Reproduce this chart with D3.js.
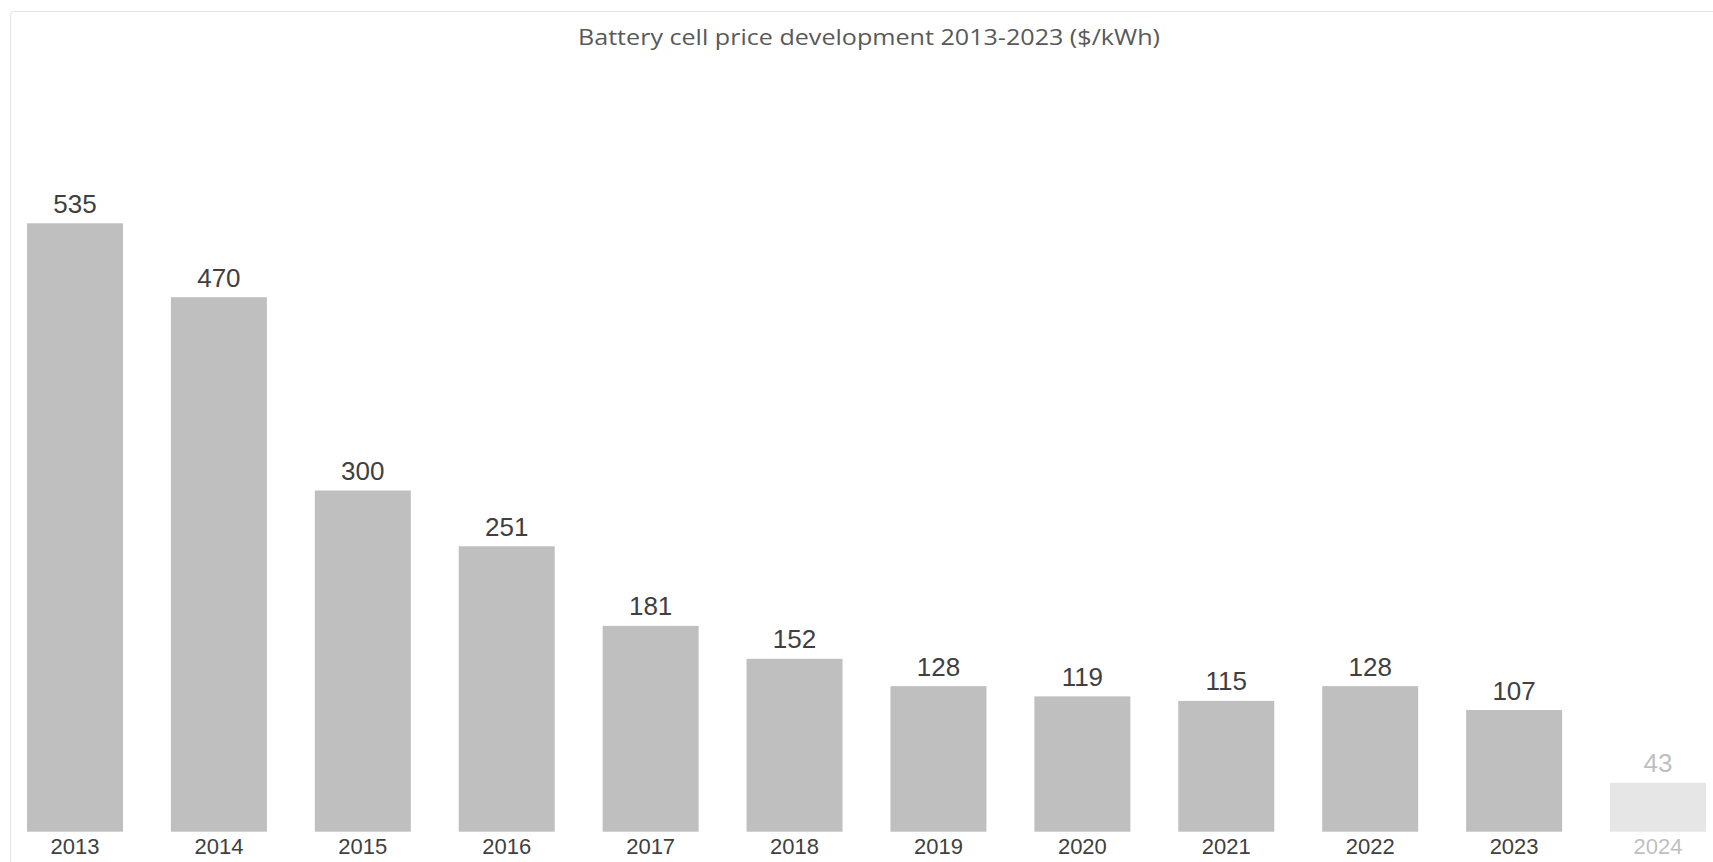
<!DOCTYPE html>
<html>
<head>
<meta charset="utf-8">
<script src="https://cdn.jsdelivr.net/npm/d3@7"></script>
<style>
  body { margin: 0; background: #fff; }
  svg { display: block; }
</style>
</head>
<body>
<svg id="chart" width="1713" height="862"></svg>
<script>
var years = ["2013", "2014", "2015", "2016", "2017", "2018", "2019", "2020", "2021", "2022", "2023", "2024"];
var prices = [535, 470, 300, 251, 181, 152, 128, 119, 115, 128, 107, 43];
var faded = ["2024"]; // drawn lighter, outside the title range

var svg = d3.select("#chart"),
    width = +svg.attr("width"),
    height = +svg.attr("height");

// chart frame (runs off the right / bottom edge)
svg.append("rect")
    .attr("x", 10.5)
    .attr("y", 11.5)
    .attr("width", width + 20)
    .attr("height", height + 20)
    .attr("rx", 3)
    .attr("fill", "none")
    .attr("stroke", "#e4e4e4")
    .attr("stroke-width", 1);

svg.append("text")
    .attr("x", 869)
    .attr("y", 45)
    .attr("text-anchor", "middle")
    .attr("textLength", 582)
    .attr("lengthAdjust", "spacingAndGlyphs")
    .style("font-family", "'Open Sans', sans-serif")
    .style("font-size", "22px")
    .style("fill", "#595959")
    .text("Battery cell price development 2013-2023 ($/kWh)");

var x = d3.scaleBand()
    .domain(years)
    .range([0, 1733])
    .paddingInner(0.333)
    .paddingOuter(0.1876);

var y = d3.scaleLinear()
    .domain([0, 535])
    .range([831.7, 223.3]);

var data = years.map(function(d, i) { return {year: d, value: prices[i]}; });

svg.append("g")
  .selectAll("rect")
    .data(data)
    .enter()
    .append("rect")
    .attr("x", function(d) { return x(d.year); })
    .attr("y", function(d) { return y(d.value); })
    .attr("width", x.bandwidth())
    .attr("height", function(d) { return y(0) - y(d.value); })
    .attr("fill", function(d) { return faded.indexOf(d.year) >= 0 ? "#e6e6e6" : "#bfbfbf"; });

// value labels above bars
svg.append("g")
  .selectAll("text")
    .data(data)
    .enter()
    .append("text")
    .attr("x", function(d) { return x(d.year) + x.bandwidth() / 2; })
    .attr("y", function(d) { return y(d.value) - 10.5; })
    .attr("text-anchor", "middle")
    .style("font-family", "'Liberation Sans', Arial, sans-serif")
    .style("font-size", "26px")
    .style("fill", function(d) { return faded.indexOf(d.year) >= 0 ? "#bfbfbf" : "#404040"; })
    .text(function(d) { return d.value; });

// year axis
var xAxis = svg.append("g")
    .attr("transform", "translate(0," + y(0) + ")")
    .call(d3.axisBottom(x).tickSize(0).tickPadding(7));

xAxis.select(".domain").remove();
xAxis.selectAll("text")
    .style("font-family", "'Liberation Sans', Arial, sans-serif")
    .style("font-size", "22px")
    .style("fill", function(d) { return faded.indexOf(d) >= 0 ? "#bfbfbf" : "#404040"; });
</script>
</body>
</html>
